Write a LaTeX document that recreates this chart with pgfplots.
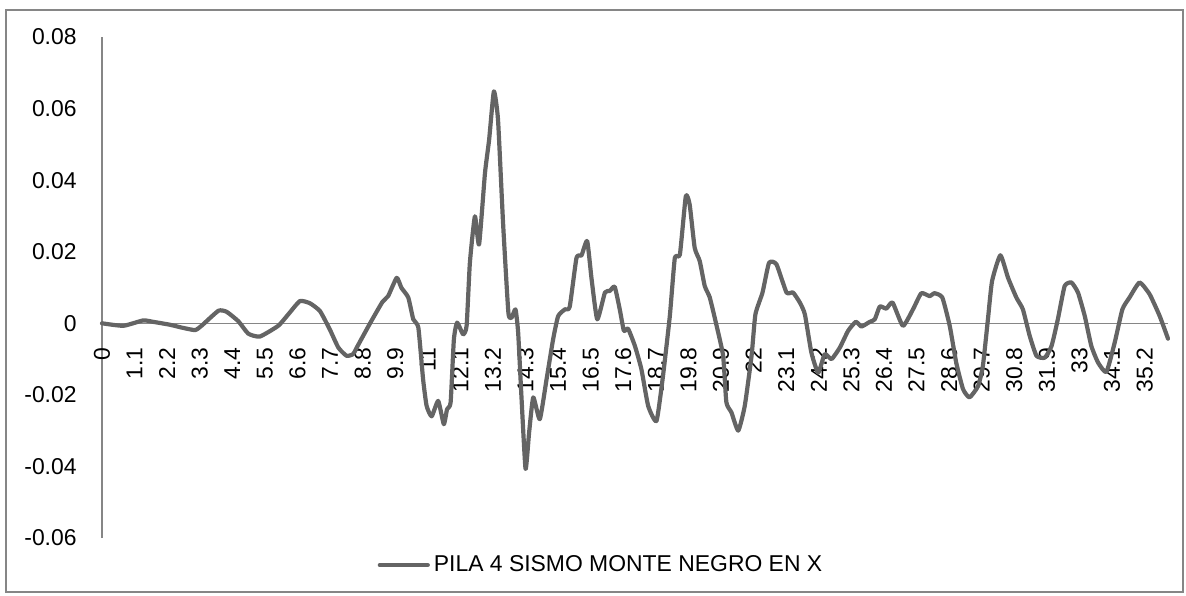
\documentclass[border=0pt]{standalone}
\usepackage{fontspec}
\setmainfont{Liberation Sans}
\usepackage{pgfplots}
\pgfplotsset{compat=1.18}

\definecolor{serie}{RGB}{100,100,100}
\definecolor{ejes}{RGB}{134,134,134}

\pgfplotstableread{
t v
0 0
0.72 -0.0007
1.39 0.0008
1.73 0.0004
2.29 -0.0004
2.69 -0.0012
3.14 -0.0019
3.36 -0.0007
3.93 0.0035
4.21 0.0032
4.60 0.0006
4.94 -0.0029
5.33 -0.0037
5.95 -0.0007
6.29 0.0025
6.68 0.0062
7.02 0.0056
7.36 0.0034
7.69 -0.0017
7.98 -0.0068
8.26 -0.0091
8.48 -0.0086
8.60 -0.0068
9.05 0.0000
9.47 0.0060
9.66 0.0076
9.95 0.0127
10.11 0.0099
10.34 0.0072
10.51 0.0011
10.68 -0.0012
10.84 -0.0156
10.96 -0.0231
11.13 -0.0260
11.35 -0.0217
11.54 -0.0282
11.65 -0.0240
11.77 -0.0221
11.88 -0.0045
11.99 0.0002
12.19 -0.0031
12.31 -0.0007
12.42 0.0169
12.59 0.0299
12.73 0.0220
12.93 0.0420
13.07 0.0513
13.23 0.0648
13.37 0.0569
13.54 0.0281
13.72 0.0030
13.83 0.0016
13.96 0.0039
14.05 -0.0026
14.16 -0.0203
14.30 -0.0407
14.42 -0.0305
14.56 -0.0207
14.78 -0.0268
15.01 -0.0156
15.23 -0.0045
15.40 0.0020
15.63 0.0039
15.79 0.0046
16.02 0.0183
16.19 0.0190
16.38 0.0230
16.53 0.0123
16.72 0.0011
16.98 0.0086
17.14 0.0090
17.31 0.0102
17.48 0.0039
17.62 -0.0021
17.76 -0.0015
17.99 -0.0063
18.21 -0.0128
18.44 -0.0231
18.72 -0.0273
18.94 -0.0147
19.17 0.0020
19.34 0.0183
19.51 0.0192
19.71 0.0355
19.84 0.0332
20.01 0.0211
20.18 0.0174
20.35 0.0104
20.52 0.0072
20.75 -0.0007
20.97 -0.0091
21.08 -0.0221
21.25 -0.0249
21.48 -0.0300
21.70 -0.0231
21.93 -0.0091
22.06 0.0025
22.30 0.0086
22.52 0.0169
22.77 0.0165
23.11 0.0086
23.33 0.0086
23.56 0.0058
23.73 0.0025
23.95 -0.0082
24.18 -0.0138
24.40 -0.0086
24.63 -0.0100
24.91 -0.0068
25.19 -0.0021
25.45 0.0004
25.64 -0.0009
25.92 0.0004
26.09 0.0011
26.26 0.0047
26.48 0.0041
26.69 0.0058
27.04 -0.0007
27.38 0.0039
27.66 0.0084
27.94 0.0076
28.11 0.0084
28.37 0.0072
28.62 -0.0007
28.84 -0.0110
29.07 -0.0184
29.29 -0.0207
29.58 -0.0175
29.74 -0.0119
29.91 0.0011
30.05 0.0118
30.33 0.0190
30.59 0.0127
30.87 0.0072
31.09 0.0039
31.32 -0.0035
31.55 -0.0091
31.83 -0.0096
32.06 -0.0063
32.27 0.0011
32.50 0.0104
32.73 0.0114
32.95 0.0086
33.18 0.0020
33.40 -0.0063
33.63 -0.0110
33.91 -0.0136
34.19 -0.0054
34.45 0.0039
34.69 0.0072
35.03 0.0114
35.37 0.0081
35.71 0.0020
35.99 -0.0043
}\pila

\begin{document}
\begin{tikzpicture}
  % chart area, as in the spreadsheet
  \useasboundingbox (-51bp,-29bp) rectangle (542bp,269bp);
  \draw[ejes, line width=1bp] (-47.75bp,-27bp) rectangle (540.25bp,264bp);
  \begin{axis}[
    at={(0,0)}, anchor=south west,
    scale only axis,
    width=533bp, height=250.5bp,
    xmin=0, xmax=35.99,
    ymin=-0.06, ymax=0.08,
    axis lines=middle,
    axis line style={-, ejes, line width=0.6bp},
    hide obscured x ticks=false,
    hide obscured y ticks=false,
    scaled y ticks=false,
    scaled x ticks=false,
    major tick length=0pt,
    font=\fontsize{11.5}{13.8}\selectfont,
    xtick={0,1.1,2.2,3.3,4.4,5.5,6.6,7.7,8.8,9.9,11,12.1,13.2,14.3,15.4,16.5,17.6,18.7,19.8,20.9,22,23.1,24.2,25.3,26.4,27.5,28.6,29.7,30.8,31.9,33,34.1,35.2},
    xticklabels={0,1.1,2.2,3.3,4.4,5.5,6.6,7.7,8.8,9.9,11,12.1,13.2,14.3,15.4,16.5,17.6,18.7,19.8,20.9,22,23.1,24.2,25.3,26.4,27.5,28.6,29.7,30.8,31.9,33,34.1,35.2},
    ytick={-0.06,-0.04,-0.02,0,0.02,0.04,0.06,0.08},
    yticklabels={-0.06,-0.04,-0.02,0,0.02,0.04,0.06,0.08},
    xticklabel style={yshift=-12bp, rotate=90, anchor=east, inner sep=0pt},
    yticklabel style={xshift=-12.5bp, anchor=east, inner sep=0pt},
    legend style={at={(axis description cs:0.469,-0.054)}, anchor=center,
      draw=none, fill=none, inner sep=0pt,
      font=\fontsize{11.5}{13.8}\selectfont},
    legend image code/.code={\draw[#1] (0,0) -- (24bp,0);},
    clip=false,
  ]
    \addplot[serie, line width=2.1bp, line join=round, line cap=round, smooth, tension=0.3] table[x=t, y=v] {\pila};
    \addlegendentry{PILA 4 SISMO MONTE NEGRO EN X}
  \end{axis}
\end{tikzpicture}
\end{document}
